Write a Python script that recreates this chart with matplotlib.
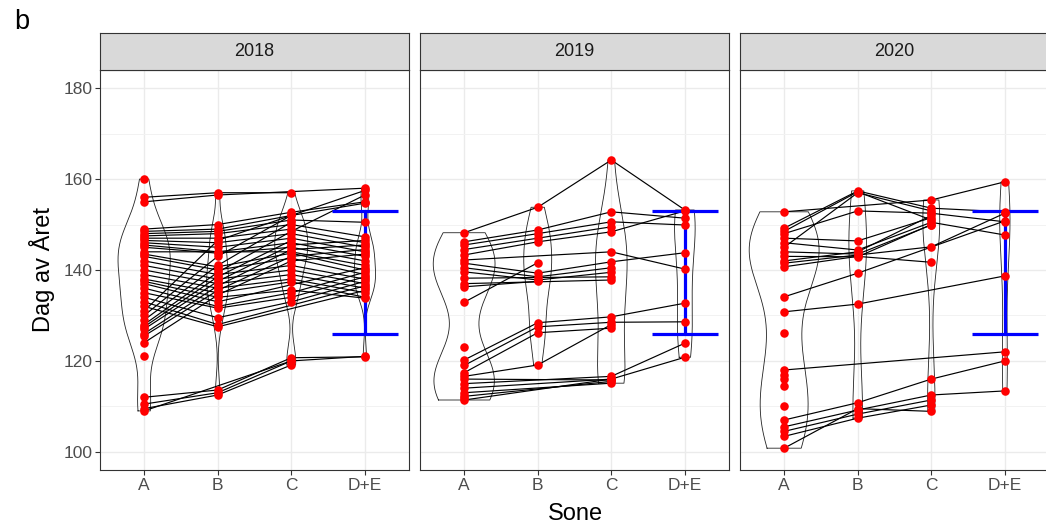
import numpy as np
import matplotlib
matplotlib.use("Agg")
import matplotlib.pyplot as plt

nan = np.nan

years = ["2018", "2019", "2020"]
zones = ["A", "B", "C", "D+E"]

# dag av året per individ, en plass per sone (nan = ikke registrert)
a_2018 = [160, 156, 155, 149, 148.5, 148, 147.5, 147, 146.5, 146, 145.5, 145, 144, 143.5, 143, 142, 141, 140, 139, 138,
          137.5, 137, 136, 135, 134, 133, 132, 131, 130, 129, 128, 127.5, 127, 126, 125.5, 124, 121, 112, 110.5, 109.5, 109]
b_2018 = [nan, 157, 156.5, 150, 149, 148.5, 148, 147, 146, 145, 144, 143.7, nan, 140.7, 140, 139, 138, 137, 136, 135,
          134, 133, 132, 131.6, 129.5, 128, 127.5, 146.5, 143, 141, 139.5, 138.5, 137.5, 136.5, 135.5, 134.5, nan, 113.6, 113, 112.5, nan]
c_2018 = [nan, 157, nan, 152.7, 152, 151, 150, 149, 148, 147, 146, 145, 144, 143.7, 142.6, 141, 140, 139, 138, 137.4,
          135.6, nan, 135, 134, 133, nan, nan, nan, 152, 150.5, 148.5, 146.5, 145.5, 144.5, 143, 142, nan, 120.7, 120, 119.1, 120]
de_2018 = [nan, nan, 158, 155, 154.7, 150.5, 147.3, 146, 145, 144, 143, 142, 141, 140, 139, 138, 137, 136, 135, 134,
           133.8, 140.5, 139.5, 138.5, 137.5, 136.5, 135.5, 157.5, nan, nan, 156.5, nan, 146.5, 145.5, 144.5, 143.5, nan, 120.9, nan, nan, 121]

a_2019 = [148.2, 146.2, 145.5, 144.5, 143.3, 142.2, 141.5, 140.5, 139.6, 138.2, 137, 136.3, 132.9, 123.1, 120.2, 119, 117.4,
          116.6, 115, 114, 113, 112.2, 111.4, 111.8, 116]
b_2019 = [153.8, 148.8, 148, 147, 146.2, nan, 139.3, 138.5, 137.8, nan, nan, 137.5, 141.6, nan, 128.4, 127.5, 126.2,
          119.1, nan, nan, nan, nan, nan, nan, nan]
c_2019 = [164.2, 152.8, 150.6, 149.5, 148.4, 144, 141.8, 140.5, 139.5, 138.5, 137.8, nan, nan, nan, 129.7, 128.5, 127.2,
          128, 116.6, 116, 115.1, 115.5, 116, nan, 115.8]
de_2019 = [153.2, 151.4, 149.9, nan, 153, 140.2, 143.8, nan, nan, nan, nan, nan, nan, nan, 132.7, 128.6, nan,
           nan, 123.9, 120.8, nan, nan, nan, nan, nan]

a_2020 = [152.8, 149.2, 148, 147, 146, 145, 144, 143, 142, 141.5, 140.7, 134.1, 130.8, 126.1, 118, 117, 116, 114.4,
          110, 107, 105.5, 104.5, 103.4, 100.8, 148.5]
b_2020 = [nan, 157.4, 153, 146.4, 144.4, 157, 143.5, 142.9, 144, nan, 143, 139.3, 132.5, nan, nan, nan, nan, nan,
          nan, 110.8, 109.2, 108.3, 107.4, 109.5, 157.2]
c_2020 = [155.4, 153.6, 152.5, 151.5, 150.5, 153, 149.9, 150, 152, 145.1, 141.7, nan, nan, nan, nan, nan, nan, nan,
          nan, 116, 112.5, 111.4, 110.3, 108.9, 151]
de_2020 = [159.4, 152.8, 150.6, nan, 147.7, nan, nan, nan, nan, 152.5, nan, 150.8, 138.7, nan, 122, nan, nan, nan,
           nan, 120, 113.4, nan, nan, nan, nan]

# referanseintervall for D+E
ref_low = [126, 126, 126]
ref_high = [153, 153, 153]

panels = [
    [a_2018, b_2018, c_2018, de_2018],
    [a_2019, b_2019, c_2019, de_2019],
    [a_2020, b_2020, c_2020, de_2020],
]

# største bredde på hver fiolin (x-enheter)
violin_w = [
    [0.71, 0.30, 0.45, 0.29],
    [0.84, 0.38, 0.43, 0.28],
    [0.95, 0.24, 0.23, 0.14],
]

plt.rcParams['font.family'] = ['Liberation Sans', 'DejaVu Sans']


def bw_nrd0(v):
    sd = np.std(v, ddof=1)
    q75, q25 = np.percentile(v, [75, 25])
    lo = min(sd, (q75 - q25) / 1.34)
    if lo <= 0:
        lo = sd if sd > 0 else 1.0
    return 0.9 * lo * len(v) ** -0.2


def violin_density(col):
    v = np.asarray(col, dtype=float)
    v = v[~np.isnan(v)]
    bw = bw_nrd0(v)
    ys = np.linspace(v.min(), v.max(), 512)
    k = np.exp(-0.5 * ((ys[:, None] - v[None, :]) / bw) ** 2)
    dens = k.sum(axis=1) / (len(v) * bw * np.sqrt(2 * np.pi))
    return ys, dens


def draw_panel(ax, cols, widths, lo, hi):
    pos = np.arange(1, len(zones) + 1)

    # fiolinene
    for p, col, wmax in zip(pos, cols, widths):
        ys, d = violin_density(col)
        half = d / d.max() * wmax / 2
        xs = np.concatenate([p - half, (p + half)[::-1], [p - half[0]]])
        yy = np.concatenate([ys, ys[::-1], [ys[0]]])
        ax.plot(xs, yy, color='#222222', lw=0.6, zorder=2)

    # én linje per individ gjennom sonene
    data = np.column_stack([np.asarray(c, dtype=float) for c in cols])
    for row in data:
        ok = ~np.isnan(row)
        if ok.sum() > 1:
            ax.plot(pos[ok], row[ok], color='black', lw=0.85, zorder=3)

    # referanse ved D+E
    ax.vlines(pos[-1], lo, hi, color='#0000FF', lw=2.3, zorder=4)
    ax.hlines([lo, hi], pos[-1] - 0.45, pos[-1] + 0.45, color='#0000FF', lw=2.3, zorder=4)

    for p, col in zip(pos, cols):
        v = np.asarray(col, dtype=float)
        v = v[~np.isnan(v)]
        ax.scatter(np.full(len(v), p), v, s=38, color='#FF0000', linewidths=0, zorder=5)

    ax.set_xlim(0.4, 4.6)
    ax.set_ylim(96, 184)
    ax.set_xticks(pos)
    ax.set_xticklabels(zones)
    ax.set_yticks([100, 120, 140, 160, 180])
    ax.set_yticks([110, 130, 150, 170], minor=True)
    ax.grid(True, which='major', color='#EBEBEB', lw=1.0, zorder=0)
    ax.grid(True, which='minor', axis='y', color='#F2F2F2', lw=0.7, zorder=0)
    ax.set_axisbelow(True)
    ax.tick_params(which='minor', length=0)
    ax.tick_params(which='major', length=3.5, width=0.8, color='#333333', labelcolor='#4D4D4D',
                   labelsize=12.5, pad=2)
    for s in ax.spines.values():
        s.set_color('#333333')
        s.set_linewidth(0.8)


W, H = 1046, 526
fig = plt.figure(figsize=(W / 100, H / 100), dpi=100)
fig.patch.set_facecolor('white')

lefts = [100, 420, 740]
pw = 309
top, bottom = 70, 470
strip_top = 33

for i, (year, cols) in enumerate(zip(years, panels)):
    ax = fig.add_axes([lefts[i] / W, 1 - bottom / H, pw / W, (bottom - top) / H])
    draw_panel(ax, cols, violin_w[i], ref_low[i], ref_high[i])
    if i > 0:
        ax.tick_params(axis='y', left=False, labelleft=False)

    sax = fig.add_axes([lefts[i] / W, 1 - top / H, pw / W, (top - strip_top) / H])
    sax.set_facecolor('#D9D9D9')
    sax.set_xticks([])
    sax.set_yticks([])
    for s in sax.spines.values():
        s.set_color('#333333')
        s.set_linewidth(0.8)
    sax.text(0.5, 0.5, year, ha='center', va='center', fontsize=13, color='#1A1A1A',
             transform=sax.transAxes)

fig.text(14 / W, 1 - 22 / H, "b", fontsize=19.5, ha='left', va='center')
fig.text(575.5 / W, 1 - 514 / H, "Sone", fontsize=17, ha='center', va='center')
fig.text(42 / W, 1 - 270 / H, "Dag av Året", fontsize=17, ha='center', va='center', rotation=90)

fig.savefig("out.png", dpi=100)
